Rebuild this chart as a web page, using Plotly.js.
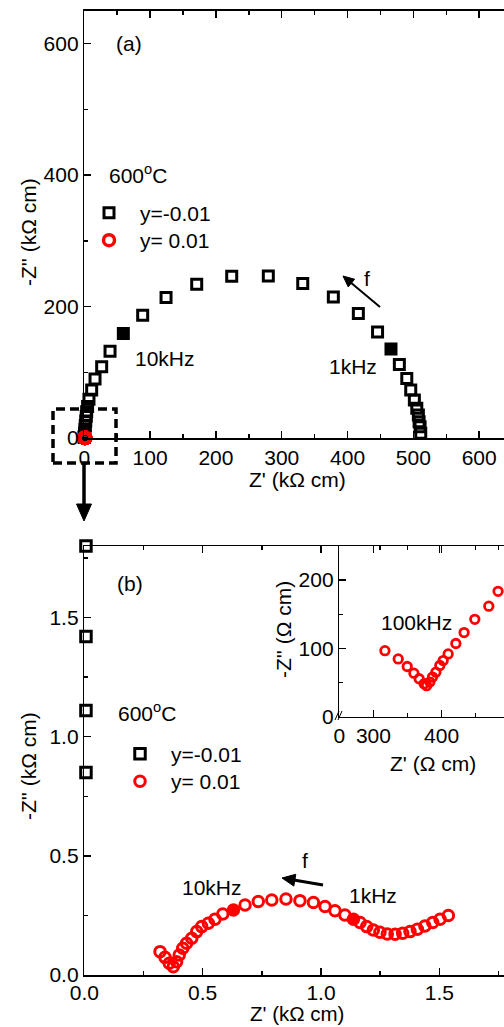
<!DOCTYPE html>
<html>
<head>
<meta charset="utf-8">
<script src="https://cdn.plot.ly/plotly-3.0.1.min.js"></script>
<style>
html,body{margin:0;padding:0;overflow:hidden;background:#fff;}
#chart{width:580px;height:1027px;}
</style>
</head>
<body>
<div id="chart"></div>
<script>
// ---------- data ----------
// Panel (a): y=-0.01, Z' and -Z'' in kOhm cm
const aSqX = [0.01, 0.01, 0.01, 0.01, 0.3, 0.6, 1.0, 1.5, 2.2, 3.0, 3.6, 5.0, 7.1, 11.2, 16.3, 26.4, 39.1, 59.3, 88.7, 124.2, 170.8, 224.0, 279.6, 331.9, 378.4, 416.4, 445.6, 466.0, 478.7, 490.0, 496.0, 501.5, 505.2, 507.6, 508.7, 510.2, 511.2];
const aSqY = [0.85, 1.11, 1.42, 1.8, 4, 8, 13, 19, 26, 33, 40, 48, 58.8, 72.9, 89.6, 108.3, 132.1, 159.0, 186.8, 213.7, 233.9, 246.0, 246.5, 234.9, 214.6, 189.3, 161.4, 135.2, 111.9, 90.7, 72.9, 57.7, 45.1, 34.9, 24.8, 17.2, 7.1];
const aSqMarked = [17, 27]; // 10kHz, 1kHz

// Panel (b): y=-0.01 visible points, kOhm cm
const bSqX = [0.007, 0.007, 0.007, 0.007];
const bSqY = [1.80, 1.42, 1.11, 0.85];

// y=0.01, kOhm cm (used in (a) and (b))
const rX = [0.320, 0.341, 0.359, 0.376, 0.390, 0.401, 0.416, 0.432, 0.454, 0.475, 0.496, 0.524, 0.552, 0.585, 0.630, 0.679, 0.735, 0.792, 0.852, 0.911, 0.968, 1.017, 1.059, 1.101, 1.137, 1.165, 1.193, 1.221, 1.249, 1.280, 1.313, 1.345, 1.376, 1.407, 1.439, 1.472, 1.503, 1.538];
const rY = [0.098, 0.074, 0.049, 0.035, 0.056, 0.084, 0.112, 0.133, 0.154, 0.182, 0.203, 0.217, 0.234, 0.256, 0.273, 0.294, 0.308, 0.315, 0.319, 0.312, 0.304, 0.287, 0.270, 0.252, 0.234, 0.220, 0.203, 0.189, 0.179, 0.172, 0.171, 0.175, 0.182, 0.192, 0.206, 0.220, 0.234, 0.250];
const rMarked = [14, 24]; // 10kHz, 1kHz

// Inset: y=0.01 high-frequency part, Ohm cm
const inX = [316.9, 336.4, 349.6, 359.4, 367.1, 374.4, 378.0, 382.8, 386.7, 391.6, 397.4, 402.3, 409.6, 420.9, 433.0, 448.7, 469.2, 482.8];
const inY = [96.7, 84.6, 73.5, 63.8, 55.6, 48.4, 45.5, 50.7, 58.0, 65.2, 75.0, 82.2, 91.9, 107.2, 123.2, 142.6, 161.9, 183.6];

const seriesNames = ['y=-0.01', 'y= 0.01'];
const aXTicks = [0, 100, 200, 300, 400, 500, 600];
const bTicks = [0, 0.5, 1.0, 1.5];
const insetXTickVals = [250, 300, 400];
const insetXTickText = ['0', '300', '400'];

// ---------- helpers ----------
const W = 580, H = 1027;
const px = v => v / W;
const py = v => 1 - v / H;
const FONT = 'Liberation Sans, Arial, sans-serif';
const BLACK = '#000000', RED = '#ff0000';

function symbols(n, marked, open, filled) {
  const s = [];
  for (let i = 0; i < n; i++) s.push(marked.includes(i) ? filled : open);
  return s;
}

const traces = [
  { x: aSqX, y: aSqY, xaxis: 'x', yaxis: 'y', mode: 'markers', name: seriesNames[0], legend: 'legend',
    cliponaxis: false,
    marker: { symbol: symbols(aSqX.length, aSqMarked, 'square-open', 'square'), size: 10, color: BLACK, line: { width: 3, color: BLACK } } },
  { x: rX, y: rY, xaxis: 'x', yaxis: 'y', mode: 'markers', name: seriesNames[1], legend: 'legend2',
    cliponaxis: false,
    marker: { symbol: 'circle-open', size: 11, color: RED, line: { width: 3.5, color: RED } } },
  { x: bSqX, y: bSqY, xaxis: 'x2', yaxis: 'y2', mode: 'markers', name: seriesNames[0], legend: 'legend3',
    cliponaxis: false,
    marker: { symbol: 'square-open', size: 10.5, color: BLACK, line: { width: 3, color: BLACK } } },
  { x: rX, y: rY, xaxis: 'x2', yaxis: 'y2', mode: 'markers', name: seriesNames[1], legend: 'legend4',
    cliponaxis: false,
    marker: { symbol: symbols(rX.length, rMarked, 'circle-open', 'circle'), size: 10.5, color: RED, line: { width: 3, color: RED } } },
  { x: inX, y: inY, xaxis: 'x3', yaxis: 'y3', mode: 'markers', showlegend: false,
    cliponaxis: true,
    marker: { symbol: 'circle-open', size: 8.5, color: RED, line: { width: 2.8, color: RED } } }
];

function ax(extra) {
  return Object.assign({
    showgrid: false, zeroline: false, showline: true, linewidth: 1.5, linecolor: BLACK,
    mirror: 'ticks', ticks: 'inside', ticklen: 7, tickwidth: 1.5, tickcolor: BLACK,
    tickfont: { family: FONT, size: 21, color: BLACK }, automargin: false, fixedrange: true
  }, extra);
}
const minor = d => ({ dtick: d, ticks: 'inside', ticklen: 4, tickwidth: 1.5, tickcolor: BLACK });

const txt = (text, x, y, xanchor, extra) => Object.assign({
  text, x: px(x), y: py(y), xref: 'paper', yref: 'paper', xanchor: xanchor || 'center', yanchor: 'middle',
  showarrow: false, font: { family: FONT, size: 21, color: BLACK }
}, extra || {});

const leg = (symX, symY) => ({
  x: px(symX - 30), y: py(symY - 19), xanchor: 'left', yanchor: 'top', bgcolor: 'rgba(0,0,0,0)',
  itemwidth: 52, font: { family: FONT, size: 21, color: BLACK }, itemclick: false
});

// arrow drawn as a line plus a filled triangular head, in figure pixels
function arrow(x0, y0, x1, y1, width, headLen, headHalf) {
  const dx = x1 - x0, dy = y1 - y0, L = Math.hypot(dx, dy);
  const ux = dx / L, uy = dy / L, nx = -uy, ny = ux;
  const bx = x1 - headLen * ux, by = y1 - headLen * uy;
  const p = (a, b) => px(a) + ' ' + py(b);
  return [
    { type: 'line', xref: 'paper', yref: 'paper', x0: px(x0), y0: py(y0), x1: px(bx + ux), y1: py(by + uy),
      line: { color: BLACK, width: width } },
    { type: 'path', xref: 'paper', yref: 'paper',
      path: 'M ' + p(x1, y1) + ' L ' + p(bx + headHalf * nx, by + headHalf * ny) + ' L ' + p(bx - headHalf * nx, by - headHalf * ny) + ' Z',
      fillcolor: BLACK, line: { color: BLACK, width: 1 } }
  ];
}

const layout = {
  width: W, height: H,
  margin: { l: 0, r: 0, t: 0, b: 0 },
  paper_bgcolor: '#fff', plot_bgcolor: 'rgba(0,0,0,0)',
  font: { family: FONT, size: 21, color: BLACK },
  xaxis: ax({ domain: [px(84.3), px(545)], range: [0, 700], anchor: 'y', tickmode: 'array', tickvals: aXTicks, minor: minor(50) }),
  yaxis: ax({ domain: [py(438), py(10.7)], range: [0, 650], anchor: 'x', dtick: 200, tick0: 0, minor: minor(100) }),
  xaxis2: ax({ domain: [px(84.3), px(557.7)], range: [0, 2], anchor: 'y2', tickmode: 'array', tickvals: bTicks, tickformat: '.1f', minor: minor(0.25), ticklabelstandoff: -2 }),
  yaxis2: ax({ domain: [py(975), py(546)], range: [0, 1.8], anchor: 'x2', dtick: 0.5, tick0: 0, tickformat: '.1f', minor: minor(0.25) }),
  xaxis3: ax({ domain: [px(339.3), px(578)], range: [250, 600], anchor: 'y3', tickmode: 'array', tickvals: insetXTickVals, ticktext: insetXTickText,
    minor: { tickvals: [350, 450, 550], ticks: 'inside', ticklen: 4, tickwidth: 1.5, tickcolor: BLACK } }),
  yaxis3: ax({ domain: [py(716.7), py(546)], range: [0, 250], anchor: 'x3', dtick: 100, tick0: 0, minor: minor(50) }),
  showlegend: true,
  legend: leg(108, 211.7),
  legend2: leg(108, 239),
  legend3: leg(139, 752.7),
  legend4: leg(139, 780),
  shapes: [
    { type: 'rect', xref: 'paper', yref: 'paper', x0: px(53), x1: px(116), y0: py(463), y1: py(409),
      line: { color: BLACK, width: 3.5, dash: '9px,5px' } },
    { type: 'line', xref: 'paper', yref: 'paper', x0: px(335), y0: py(720), x1: px(339), y1: py(711), line: { color: BLACK, width: 1 } },
    { type: 'line', xref: 'paper', yref: 'paper', x0: px(338), y0: py(720), x1: px(342), y1: py(711), line: { color: BLACK, width: 1 } }
  ].concat(
    arrow(380, 307, 343, 276, 2, 11, 5),
    arrow(84, 463, 84, 521, 3.5, 17, 7.5),
    arrow(323, 885, 282, 878, 3, 13, 6)
  ),
  annotations: [
    // panel (a)
    txt('(a)', 129, 43),
    txt('600<sup>o</sup>C', 107, 174, 'left'),
    txt('10kHz', 133, 359, 'left'),
    txt('1kHz', 327, 366, 'left'),
    txt('f', 367, 278),
    txt("Z' (k\u03A9 cm)", 297, 479),
    txt("-Z'' (k\u03A9 cm)", 28, 232, 'center', { textangle: -90 }),
    // panel (b)
    txt('(b)', 129.5, 583),
    txt('600<sup>o</sup>C', 116, 712, 'left'),
    txt('f', 305, 860),
    txt('10kHz', 180, 887, 'left'),
    txt('1kHz', 347, 895, 'left'),
    txt("Z' (k\u03A9 cm)", 297, 1027, 'center', { yanchor: 'bottom', y: 0, font: { family: FONT, size: 20.5, color: BLACK } }),
    txt("-Z'' (k\u03A9 cm)", 28, 766, 'center', { textangle: -90 }),
    // inset
    txt('100kHz', 379, 622, 'left'),
    txt("-Z'' (\u03A9 cm)", 283, 630, 'center', { textangle: -90 }),
    txt("Z' (\u03A9 cm)", 433, 763)
  ]
};

Plotly.newPlot('chart', traces, layout, { displayModeBar: false, staticPlot: true });
</script>
</body>
</html>
